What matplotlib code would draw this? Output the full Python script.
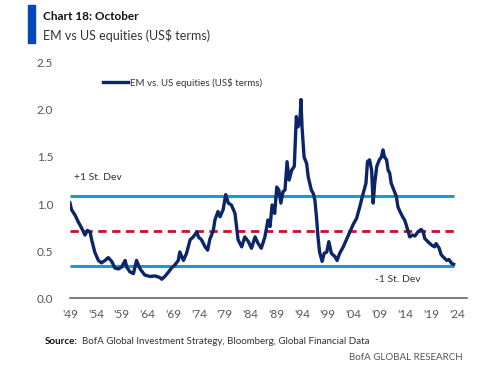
import matplotlib
matplotlib.use("Agg")
import matplotlib.pyplot as plt
import numpy as np

plt.rcParams['font.family'] = ['Lato', 'DejaVu Sans']

# EM vs US equities ratio
years = [1949.0, 1949.3, 1950.0, 1950.6, 1951.3, 1951.9, 1952.4, 1952.9, 1953.2, 1953.8,
         1954.5, 1955.1, 1955.8, 1956.4, 1957.1, 1957.7, 1958.4, 1959.0, 1959.7, 1960.0,
         1960.6, 1961.3, 1961.9, 1962.6, 1963.5, 1964.5, 1965.5, 1966.4, 1966.8, 1967.4,
         1968.0, 1968.7, 1969.3, 1970.0, 1970.3, 1971.0, 1971.6, 1972.3, 1972.9, 1973.6,
         1973.9, 1974.5, 1975.2, 1975.7, 1976.1, 1976.8, 1977.1, 1977.7, 1978.1, 1978.7,
         1979.2, 1979.7, 1980.3, 1981.0, 1981.3, 1981.6, 1982.3, 1982.9, 1983.6, 1984.2,
         1984.9, 1985.5, 1986.1, 1986.8, 1987.4, 1987.8, 1988.2, 1988.7, 1989.1, 1989.5,
         1989.9, 1990.3, 1990.7, 1991.1, 1991.5, 1992.0, 1992.5, 1992.9, 1993.2, 1993.6,
         1993.8, 1994.0, 1994.4, 1994.9, 1995.2, 1995.5, 1995.8, 1996.2, 1996.5, 1996.8,
         1997.1, 1997.4, 1997.9, 1998.3, 1998.8, 1999.2, 1999.7, 2000.4, 2000.8, 2001.3,
         2002.0, 2002.6, 2003.3, 2003.9, 2004.6, 2005.2, 2005.8, 2006.4, 2006.7, 2007.1,
         2007.5, 2007.8, 2008.1, 2008.5, 2009.0, 2009.4, 2009.7, 2010.0, 2010.4, 2010.7,
         2011.0, 2011.3, 2011.8, 2012.3, 2012.6, 2013.0, 2013.5, 2013.9, 2014.2, 2014.6,
         2014.9, 2015.4, 2015.9, 2016.5, 2017.1, 2017.5, 2017.8, 2018.4, 2019.1, 2019.7,
         2020.0, 2020.6, 2021.0, 2021.7, 2022.1, 2022.5, 2023.0, 2023.4]
ratio = [1.01, 0.94, 0.88, 0.81, 0.74, 0.67, 0.72, 0.70, 0.62, 0.49,
         0.40, 0.375, 0.40, 0.43, 0.39, 0.32, 0.31, 0.33, 0.40, 0.33,
         0.28, 0.26, 0.40, 0.31, 0.245, 0.23, 0.235, 0.22, 0.20, 0.23,
         0.27, 0.32, 0.35, 0.40, 0.49, 0.40, 0.475, 0.62, 0.65, 0.705,
         0.65, 0.62, 0.545, 0.51, 0.62, 0.72, 0.83, 0.92, 0.865, 0.94,
         1.10, 1.01, 0.99, 0.90, 0.76, 0.62, 0.545, 0.65, 0.60, 0.53,
         0.65, 0.58, 0.53, 0.65, 0.83, 0.76, 0.99, 0.90, 1.18, 1.15,
         1.01, 1.13, 1.15, 1.45, 1.255, 1.36, 1.40, 1.93, 1.82, 1.89,
         2.11, 1.82, 1.50, 1.43, 1.29, 1.22, 1.15, 1.11, 1.04, 0.865,
         0.65, 0.49, 0.39, 0.475, 0.49, 0.60, 0.475, 0.44, 0.40, 0.475,
         0.545, 0.62, 0.705, 0.78, 0.85, 0.97, 1.10, 1.22, 1.45, 1.47,
         1.36, 1.01, 1.22, 1.40, 1.47, 1.50, 1.575, 1.50, 1.47, 1.36,
         1.33, 1.22, 1.15, 1.08, 0.97, 0.92, 0.865, 0.83, 0.78, 0.705,
         0.65, 0.67, 0.66, 0.705, 0.73, 0.705, 0.635, 0.60, 0.565, 0.545,
         0.58, 0.53, 0.46, 0.42, 0.40, 0.41, 0.37, 0.36]

mean_level = 0.714
plus_one_sd = 1.085
minus_one_sd = 0.343

xticks = list(range(1949, 2025, 5))
xtick_labels = ["'%02d" % (y % 100) for y in xticks]
yticks = [0.0, 0.5, 1.0, 1.5, 2.0, 2.5]

navy = "#0c2468"
light_blue = "#189ad6"
red = "#c8102e"
grey = "#555555"

fig = plt.figure(figsize=(5, 3.68), dpi=100)
ax = fig.add_axes([0.14, 0.19, 0.794, 0.639])

ax.hlines(plus_one_sd, years[0], years[-1], color=light_blue, lw=2.2, zorder=2)
ax.hlines(minus_one_sd, years[0], years[-1], color=light_blue, lw=2.2, zorder=2)
ax.hlines(mean_level, years[0], years[-1], color=red, lw=2, linestyles=(0, (3, 2)), zorder=2)
ax.plot(years, ratio, color=navy, lw=2.4, zorder=3, label="EM vs. US equities (US$ terms)")

ax.set_xlim(1949, 2026)
ax.set_ylim(0, 2.5)
ax.set_xticks(xticks)
ax.set_xticklabels(xtick_labels)
ax.set_yticks(yticks)
ax.set_yticklabels(["%.1f" % v for v in yticks])
ax.tick_params(length=0, labelsize=8.5, labelcolor=grey, pad=8)
ax.tick_params(axis='y', pad=12)
for s in ['top', 'right', 'left']:
    ax.spines[s].set_visible(False)
ax.spines['bottom'].set_color("#666666")
ax.spines['bottom'].set_linewidth(1.2)

leg = ax.legend(loc='upper left', bbox_to_anchor=(0.06, 0.975), frameon=False,
                fontsize=7, handlelength=2.6, handletextpad=0.2)
for t in leg.get_texts():
    t.set_color("#333333")

ax.text(1949.7, 1.28, "+1 St. Dev", fontsize=7.5, color="#333333", va='center')
ax.text(2008.2, 0.2, "-1 St. Dev", fontsize=7.5, color="#333333", va='center')

# header
fig.patches.append(plt.Rectangle((28 / 500, 1 - 43 / 368), 7 / 500, 38 / 368,
                                 transform=fig.transFigure, color="#0047bb"))
fig.text(43 / 500, 1 - 17 / 368, "Chart 18: October", fontsize=8.5, fontweight='bold',
         color="#111111", va='center')
fig.text(43 / 500, 1 - 36 / 368, "EM vs US equities (US$ terms)", fontsize=9,
         color="#333333", va='center')

# footer
src = fig.text(45 / 500, 1 - 341 / 368, "Source:", fontsize=7, fontweight='bold',
               color="#111111", va='center')
fig.canvas.draw()
bb = src.get_window_extent(renderer=fig.canvas.get_renderer())
fig.text((bb.x1 + 4) / 500, 1 - 341 / 368,
         "BofA Global Investment Strategy, Bloomberg, Global Financial Data",
         fontsize=7, color="#333333", va='center')
fig.text(463 / 500, 1 - 357 / 368, "BofA GLOBAL RESEARCH", fontsize=7, color=grey,
         va='center', ha='right')

fig.savefig("out.png", dpi=100)
